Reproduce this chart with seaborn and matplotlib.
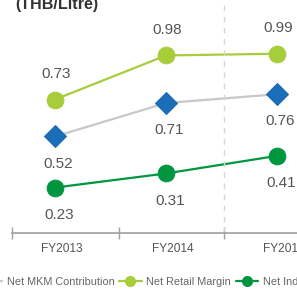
import matplotlib
matplotlib.use('Agg')
from matplotlib import pyplot as plt
from matplotlib import transforms
import seaborn as sns

years = ['FY2013', 'FY2014', 'FY2015']
mkm = [0.52, 0.71, 0.76]
retail = [0.73, 0.98, 0.99]
industry = [0.23, 0.31, 0.41]
unit_label = '(THB/Litre)'

sns.set_style('white')
plt.rcParams['font.family'] = ['Liberation Sans', 'DejaVu Sans']

C_GRAY, C_BLUE = '#c8c8c8', '#1c6db8'
C_LIME, C_GREEN = '#a8cd3a', '#00963f'
TXT = '#555555'

fig = plt.figure(figsize=(2.97, 2.89), dpi=100)
ax = fig.add_axes([0, 56 / 289, 1, 233 / 289])
x = list(range(len(years)))

sns.lineplot(x=x, y=mkm, ax=ax, color=C_GRAY, lw=1.6, marker='D', markersize=11,
             markerfacecolor=C_BLUE, markeredgecolor=C_BLUE, label='Net MKM Contribution')
sns.lineplot(x=x, y=retail, ax=ax, color=C_LIME, lw=1.6, marker='o', markersize=12,
             markerfacecolor=C_LIME, markeredgecolor=C_LIME, label='Net Retail Margin')
sns.lineplot(x=x, y=industry, ax=ax, color=C_GREEN, lw=1.6, marker='o', markersize=12,
             markerfacecolor=C_GREEN, markeredgecolor=C_GREEN, label='Net Industry Margin')

# value labels: retail above, others below
for i in x:
    ax.annotate(f'{retail[i]:.2f}', (i, retail[i]), xytext=(1, 18.5), textcoords='offset points',
                ha='center', va='center', fontsize=11, color=TXT)
    ax.annotate(f'{mkm[i]:.2f}', (i, mkm[i]), xytext=(2, -19.5), textcoords='offset points',
                ha='center', va='center', fontsize=11, color=TXT)
    ax.annotate(f'{industry[i]:.2f}', (i, industry[i]), xytext=(3, -19.5), textcoords='offset points',
                ha='center', va='center', fontsize=11, color=TXT)

ax.set_xlim(-0.495, 2.18)
ax.set_ylim(-0.028, 1.295)

# axis with boundary ticks
bounds = [-0.387, 0.577, 1.523]
for s in ['top', 'right', 'left']:
    ax.spines[s].set_visible(False)
ax.spines['bottom'].set_color('#a0a0a0')
ax.spines['bottom'].set_linewidth(1.2)
ax.spines['bottom'].set_bounds(bounds[0], 2.18)
ax.set_xticks(bounds)
ax.set_xticklabels([])
ax.tick_params(axis='x', direction='inout', length=8, width=1, color='#a0a0a0', bottom=True)
ax.set_yticks([])
ax.axvline(bounds[2], color='#d5d5d5', lw=1, ls=(0, (4, 4)))

trans = transforms.blended_transform_factory(ax.transData, ax.transAxes)
for i, yr in enumerate(years):
    ax.text(i + 0.06, -0.07, yr, transform=trans, ha='center', va='center',
            fontsize=8.6, color=TXT)

fig.text(15 / 297, 1 - 9 / 289, unit_label, ha='left', va='baseline',
         fontsize=11.6, fontweight='bold', color='#333333')

handles, labels = ax.get_legend_handles_labels()
ax.get_legend().remove()
fig.legend(handles, labels, loc='center', bbox_to_anchor=(0.569, 0.024), ncol=3,
           frameon=False, fontsize=7.8, handlelength=2.1, handletextpad=0.45,
           columnspacing=0.4, markerscale=0.6, labelcolor='#666666', borderpad=0)

plt.savefig('out.png', dpi=100)
plt.close()
